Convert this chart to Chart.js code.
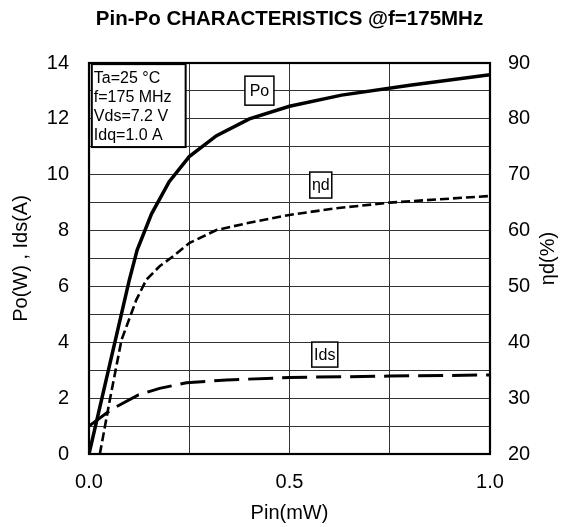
<!DOCTYPE html>
<html>
<head>
<meta charset="utf-8">
<script src="https://cdn.jsdelivr.net/npm/chart.js@4"></script>
<style>
html,body{margin:0;padding:0;background:#fff;}
#wrap{width:563px;height:527px;}
</style>
</head>
<body>
<div id="wrap"><canvas id="c" width="563" height="527"></canvas></div>
<script>
// ---- data ----
const poX  = [0, 0.05, 0.1, 0.12, 0.156, 0.2, 0.25, 0.318, 0.4, 0.5, 0.63, 0.8, 1.0];
const poY  = [0, 3.1, 6.2, 7.3, 8.6, 9.75, 10.65, 11.4, 12.0, 12.45, 12.85, 13.2, 13.58];
const etaX = [0.027, 0.052, 0.081, 0.118, 0.143, 0.176, 0.21, 0.251, 0.318, 0.393, 0.5, 0.617, 0.75, 1.0];
const etaY = [20, 29.7, 40.4, 47.6, 51.2, 53.6, 55.4, 57.8, 60.1, 61.3, 62.8, 64.0, 65.0, 66.2];
const idsX = [0, 0.043, 0.068, 0.122, 0.176, 0.243, 0.343, 0.5, 0.75, 1.0];
const idsY = [1.0, 1.46, 1.69, 2.11, 2.35, 2.55, 2.65, 2.74, 2.79, 2.83];
const xTickLabels = ['0.0', '0.5', '1.0'];
const xLabelValues = [0, 0.5, 1.0];
const infoLines = ['Ta=25 \u00B0C', 'f=175 MHz', 'Vds=7.2 V', 'Idq=1.0 A'];
const rightTitle = '\u03B7d(%)';

// ---- annotation anchors (data units) ----
const infoBox = {x0: 0.007, x1: 0.241, y0: 10.99, y1: 13.96};
const tags = [
  {text: 'Po',  x: 0.425, y: 13.01, w: 29, h: 29},
  {text: '\u03B7d', x: 0.578, y: 9.63, w: 22, h: 26},
  {text: 'Ids', x: 0.588, y: 3.56, w: 26, h: 25}
];

const FONT = '"Liberation Sans", Arial, sans-serif';
const pts = (xs, ys) => xs.map((x, i) => ({x: x, y: ys[i]}));

const annot = {
  id: 'annot',
  afterDatasetsDraw(chart) {
    const ctx = chart.ctx, xs = chart.scales.x, ys = chart.scales.y;
    const ca = chart.chartArea;
    ctx.save();
    // frame
    ctx.strokeStyle = '#000';
    ctx.lineWidth = 2.2;
    ctx.strokeRect(ca.left, ca.top, ca.right - ca.left, ca.bottom - ca.top);
    // info box
    const bx0 = xs.getPixelForValue(infoBox.x0), bx1 = xs.getPixelForValue(infoBox.x1);
    const by0 = ys.getPixelForValue(infoBox.y1), by1 = ys.getPixelForValue(infoBox.y0);
    ctx.fillStyle = '#fff';
    ctx.fillRect(bx0, by0, bx1 - bx0, by1 - by0);
    ctx.lineWidth = 2;
    ctx.strokeRect(bx0, by0, bx1 - bx0, by1 - by0);
    ctx.fillStyle = '#000';
    ctx.font = '16px ' + FONT;
    ctx.textAlign = 'left';
    ctx.textBaseline = 'middle';
    infoLines.forEach((t, i) => ctx.fillText(t, bx0 + 2, by0 + 14 + i * 19.3));
    // tags
    ctx.textAlign = 'center';
    tags.forEach(tg => {
      const cx = xs.getPixelForValue(tg.x), cy = ys.getPixelForValue(tg.y);
      ctx.fillStyle = '#fff';
      ctx.fillRect(cx - tg.w / 2, cy - tg.h / 2, tg.w, tg.h);
      ctx.lineWidth = 1.5;
      ctx.strokeRect(cx - tg.w / 2, cy - tg.h / 2, tg.w, tg.h);
      ctx.fillStyle = '#000';
      ctx.fillText(tg.text, cx, cy + 1);
    });
    // right axis title, reading bottom-to-top
    const r = chart.scales.y1;
    ctx.translate(r.right - 15, (ca.top + ca.bottom) / 2);
    ctx.rotate(-Math.PI / 2);
    ctx.font = '20px ' + FONT;
    ctx.textAlign = 'center';
    ctx.textBaseline = 'middle';
    ctx.fillText(rightTitle, 0, 0);
    ctx.restore();
  }
};

new Chart(document.getElementById('c'), {
  type: 'scatter',
  data: {
    datasets: [
      {label: 'Po', data: pts(poX, poY), yAxisID: 'y', showLine: true, borderColor: '#000', borderWidth: 3.5, pointRadius: 0, tension: 0},
      {label: '\u03B7d', data: pts(etaX, etaY), yAxisID: 'y1', showLine: true, borderColor: '#000', borderWidth: 2.6, borderDash: [9, 4], pointRadius: 0, tension: 0},
      {label: 'Ids', data: pts(idsX, idsY), yAxisID: 'y', showLine: true, borderColor: '#000', borderWidth: 3, borderDash: [25, 9], pointRadius: 0, tension: 0}
    ]
  },
  options: {
    responsive: false,
    animation: false,
    devicePixelRatio: 1,
    layout: {padding: 0},
    plugins: {
      legend: {display: false},
      tooltip: {enabled: false},
      title: {
        display: true,
        fullSize: false,
        text: 'Pin-Po CHARACTERISTICS @f=175MHz',
        color: '#000',
        font: {family: FONT, size: 20.5, weight: 'bold', lineHeight: 1.2},
        padding: {top: 7, bottom: 31.4}
      }
    },
    scales: {
      x: {
        type: 'linear', min: 0, max: 1,
        afterFit: s => { s.height = 73; },
        afterBuildTicks: s => { s.ticks = [0, 0.25, 0.5, 0.75, 1].map(v => ({value: v})); },
        ticks: {
          color: '#000', padding: 16, maxRotation: 0, autoSkip: false,
          font: {family: FONT, size: 20},
          callback: v => { const i = xLabelValues.indexOf(v); return i >= 0 ? xTickLabels[i] : ''; }
        },
        grid: {color: '#333', lineWidth: 1, drawTicks: false},
        border: {display: false},
        title: {display: true, text: 'Pin(mW)', color: '#000', font: {family: FONT, size: 20}, padding: {top: 0, bottom: 2}}
      },
      y: {
        position: 'left', min: 0, max: 14,
        afterFit: s => { s.width = 89; },
        ticks: {
          stepSize: 1, color: '#000', padding: 20, autoSkip: false,
          font: {family: FONT, size: 20},
          callback: v => (v % 2 === 0 ? String(v) : '')
        },
        grid: {color: '#333', lineWidth: 1, drawTicks: false},
        border: {display: false},
        title: {display: true, text: 'Po(W) , Ids(A)', color: '#000', font: {family: FONT, size: 20}, padding: {top: 9, bottom: 0}}
      },
      y1: {
        position: 'right', min: 20, max: 90,
        afterFit: s => { s.width = 73; },
        ticks: {stepSize: 10, color: '#000', padding: 18, font: {family: FONT, size: 20}},
        grid: {display: false, drawTicks: false},
        border: {display: false},
        title: {display: false}
      }
    }
  },
  plugins: [annot]
});
</script>
</body>
</html>
